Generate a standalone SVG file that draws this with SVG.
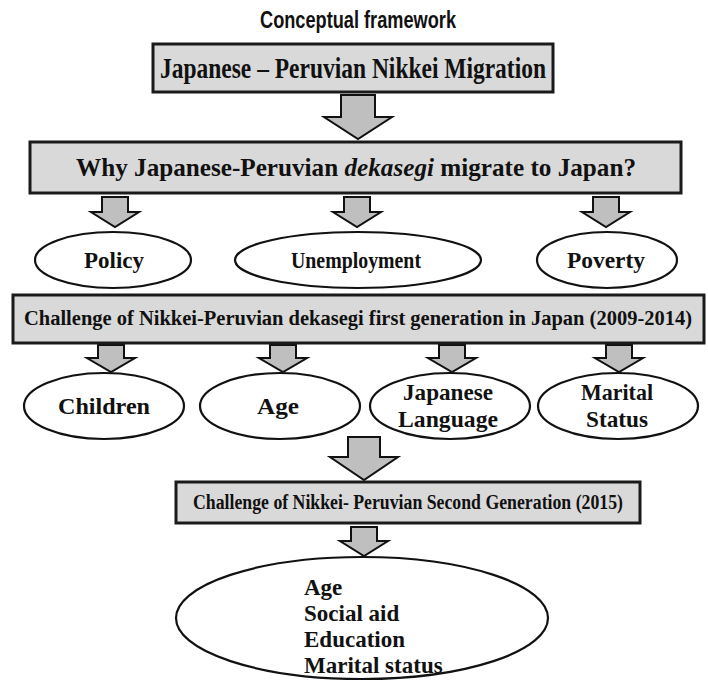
<svg xmlns="http://www.w3.org/2000/svg" width="708" height="684" viewBox="0 0 708 684">
<style>
.box{fill:#d9d9d9;stroke:#1a1a1a;stroke-width:3}
.ell{fill:#ffffff;stroke:#111;stroke-width:2.2}
.arr{fill:#bfbfbf;stroke:#111;stroke-width:2;stroke-linejoin:miter}
.t{font-family:"Liberation Serif","Times New Roman",serif;font-weight:bold;fill:#111;text-anchor:middle}
.tl{font-family:"Liberation Serif","Times New Roman",serif;font-weight:bold;fill:#111;font-size:23px}
.title{font-family:"Liberation Sans",Arial,sans-serif;font-weight:bold;font-size:23px;fill:#111;text-anchor:middle}
</style>
<rect width="708" height="684" fill="#ffffff"/>
<text class="title" x="358" y="28" textLength="196" lengthAdjust="spacingAndGlyphs">Conceptual framework</text>
<g id="connectors">
<polygon class="arr" points="341,95 375,95 375,117 392,117 358,139 324,117 341,117"/>
<polygon class="arr" points="102,197 128,197 128,212 139,212 115,227 91,212 102,212"/>
<polygon class="arr" points="344,197 370,197 370,212 381,212 357,227 333,212 344,212"/>
<polygon class="arr" points="593,197 619,197 619,212 630,212 606,227 582,212 593,212"/>
<polygon class="arr" points="98,345 124,345 124,358 135,358 111,372 87,358 98,358"/>
<polygon class="arr" points="270,345 296,345 296,358 307,358 283,372 259,358 270,358"/>
<polygon class="arr" points="439,345 465,345 465,358 476,358 452,372 428,358 439,358"/>
<polygon class="arr" points="606,345 632,345 632,358 643,358 619,372 595,358 606,358"/>
<polygon class="arr" points="348,437 380,437 380,457 398,457 364,480 330,457 348,457"/>
<polygon class="arr" points="351,527 377,527 377,541 388,541 364,556 340,541 351,541"/>
</g>
<g id="n-migration">
<rect class="box" x="153" y="44" width="400" height="48"/>
<text class="t" x="353" y="78" font-size="30" textLength="386" lengthAdjust="spacingAndGlyphs">Japanese – Peruvian  Nikkei Migration</text>
</g>
<g id="n-why">
<rect class="box" x="30" y="142" width="651" height="51"/>
<text class="t" x="356" y="176" font-size="25" textLength="560" lengthAdjust="spacingAndGlyphs">Why Japanese-Peruvian <tspan font-style="italic">dekasegi</tspan>  migrate to Japan?</text>
</g>
<g id="n-policy">
<ellipse class="ell" cx="113" cy="260" rx="78" ry="28"/>
<text class="t" x="114" y="268" font-size="24" textLength="60" lengthAdjust="spacingAndGlyphs">Policy</text>
</g>
<g id="n-unemployment">
<ellipse class="ell" cx="358" cy="260" rx="123" ry="28"/>
<text class="t" x="356" y="268" font-size="24" textLength="130" lengthAdjust="spacingAndGlyphs">Unemployment</text>
</g>
<g id="n-poverty">
<ellipse class="ell" cx="607" cy="260" rx="70" ry="28"/>
<text class="t" x="606" y="268" font-size="24" textLength="78" lengthAdjust="spacingAndGlyphs">Poverty</text>
</g>
<g id="n-challenge1">
<rect class="box" x="13" y="295" width="691" height="48"/>
<text class="t" x="358" y="325" font-size="20" textLength="668" lengthAdjust="spacingAndGlyphs">Challenge of Nikkei-Peruvian dekasegi first generation in Japan (2009-2014)</text>
</g>
<g id="n-children">
<ellipse class="ell" cx="104" cy="406" rx="80" ry="33"/>
<text class="t" x="104" y="414" font-size="24" textLength="92" lengthAdjust="spacingAndGlyphs">Children</text>
</g>
<g id="n-age">
<ellipse class="ell" cx="280" cy="406" rx="80" ry="33"/>
<text class="t" x="278" y="414" font-size="24" textLength="42" lengthAdjust="spacingAndGlyphs">Age</text>
</g>
<g id="n-language">
<ellipse class="ell" cx="450" cy="406" rx="80" ry="33"/>
<text class="t" x="448" y="400" font-size="24" textLength="90" lengthAdjust="spacingAndGlyphs">Japanese</text>
<text class="t" x="448" y="427" font-size="24" textLength="100" lengthAdjust="spacingAndGlyphs">Language</text>
</g>
<g id="n-marital">
<ellipse class="ell" cx="618" cy="406" rx="80" ry="33"/>
<text class="t" x="617" y="400" font-size="24" textLength="72" lengthAdjust="spacingAndGlyphs">Marital</text>
<text class="t" x="617" y="427" font-size="24" textLength="62" lengthAdjust="spacingAndGlyphs">Status</text>
</g>
<g id="n-challenge2">
<rect class="box" x="176" y="482" width="464" height="41"/>
<text class="t" x="408" y="509" font-size="20" textLength="430" lengthAdjust="spacingAndGlyphs">Challenge of Nikkei- Peruvian Second Generation (2015)</text>
</g>
<g id="n-second">
<ellipse class="ell" cx="362" cy="618" rx="186" ry="61"/>
<text class="tl" x="304" y="595">Age</text>
<text class="tl" x="304" y="621">Social aid</text>
<text class="tl" x="304" y="647">Education</text>
<text class="tl" x="304" y="673">Marital status</text>
</g>
</svg>
